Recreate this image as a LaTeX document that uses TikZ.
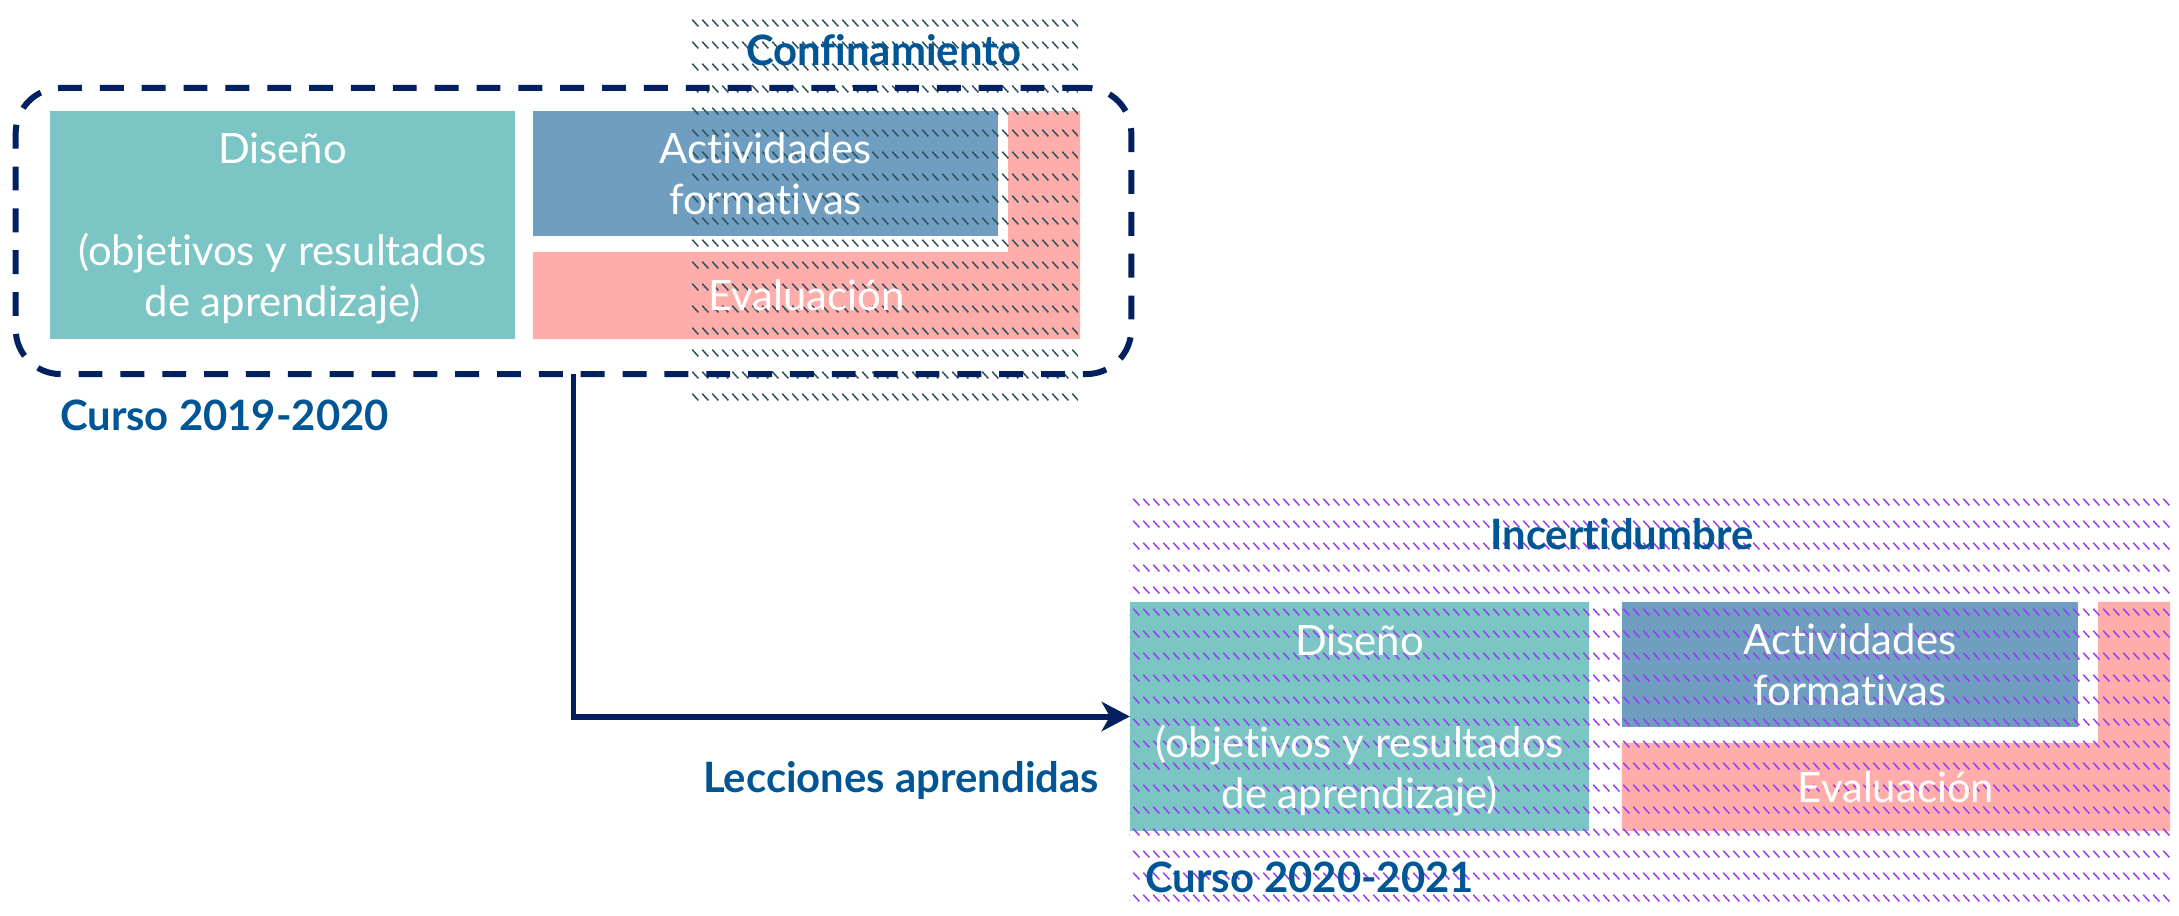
\documentclass[tikz,border=0pt]{standalone}
\usepackage{fontspec}
\setmainfont{Lato}[Ligatures=CommonOff]
\usetikzlibrary{arrows.meta, patterns.meta, backgrounds}

\definecolor{navyline}{RGB}{0,32,96}
\definecolor{titleblue}{RGB}{0,85,148}
\definecolor{disenofill}{RGB}{124,197,197}
\definecolor{actividadfill}{RGB}{111,158,192}
\definecolor{evalfill}{RGB}{255,173,170}
\definecolor{confhatch}{RGB}{45,82,92}
\definecolor{inchatch}{RGB}{150,60,245}

\newcommand{\boxfont}{\fontsize{11.9pt}{14.5pt}\selectfont}
\newcommand{\tagfont}{\fontsize{11.9pt}{14.5pt}\selectfont\bfseries}

% short downward diagonal dashes, in rows
\tikzdeclarepattern{
  name=dashdown,
  type=uncolored,
  bottom left={(0pt,0pt)},
  top right={(2.85pt,6.2pt)},
  tile size={(2.85pt,6.2pt)},
  code={\draw[line width=0.45pt] (0.4pt,5.8pt) -- (2.3pt,3.9pt);}
}

\pgfdeclarelayer{hatch}
\pgfsetlayers{background,hatch,main}

\begin{document}
\begin{tikzpicture}[
  x=0.01cm, y=-0.01cm,
  every node/.style = {inner sep=0pt, outer sep=0pt},
  stagebox/.style = {text=white, align=center, font=\boxfont, text depth=0pt},
  zonetag/.style = {text=titleblue, font=\tagfont},
  hatchzone/.style = {pattern=dashdown},
  cursoframe/.style = {draw=navyline, line width=1.7pt, dash pattern=on 6.8pt off 5.1pt, rounded corners=0.45cm},
  arrow/.style = {-{Stealth[length=8pt, width=8.3pt, inset=2.3pt]}, draw=navyline, line width=1.7pt}
]
\useasboundingbox (0,0) rectangle (2179,915);

% Curso 2019-2020 (top left)
\node[stagebox, minimum width=4.65cm, minimum height=2.28cm] (dis1) at (282.5,225) {Diseño\\[0.51cm](objetivos y resultados\\de aprendizaje)};
\node[stagebox, minimum width=4.65cm, minimum height=1.25cm] (act1) at (765.5,173.5) {Actividades\\formativas};
\node[stagebox, minimum width=5.47cm, minimum height=0.87cm] (eva1) at (806.5,295.5) {Evaluación};
\node[cursoframe, minimum width=11.15cm, minimum height=2.86cm] (frame1) at (573.5,231) {};
\node[zonetag, anchor=base west] (curso1) at (60,430) {Curso 2019-2020};
\node[zonetag, anchor=base] (conf) at (884,65) {Confinamiento};

% Curso 2020-2021 (bottom right)
\node[stagebox, minimum width=4.59cm, minimum height=2.29cm] (dis2) at (1359.5,716.5) {Diseño\\[0.51cm](objetivos y resultados\\de aprendizaje)};
\node[stagebox, minimum width=4.56cm, minimum height=1.25cm] (act2) at (1850,664.5) {Actividades\\formativas};
\node[stagebox, minimum width=5.48cm, minimum height=0.88cm] (eva2) at (1896,787) {Evaluación};
\node[zonetag, anchor=base] (incert) at (1622,549) {Incertidumbre};
\node[zonetag, anchor=base west] (curso2) at (1145,892) {Curso 2020-2021};
\node[zonetag, anchor=base east] (lecc) at (1099,792) {Lecciones aprendidas};

% Lessons learned
\draw[arrow] (frame1.south) |- (dis2.west);

% Box fills (under the hatching)
\begin{pgfonlayer}{background}
  \fill[disenofill] (dis1.north west) rectangle (dis1.south east);
  \fill[actividadfill] (act1.north west) rectangle (act1.south east);
  \fill[evalfill] (eva1.south west) -- (eva1.south east) -- (eva1.east |- act1.north) -- ++(-72,0) |- (eva1.north west) -- cycle;
  \fill[disenofill] (dis2.north west) rectangle (dis2.south east);
  \fill[actividadfill] (act2.north west) rectangle (act2.south east);
  \fill[evalfill] (eva2.south west) -- (eva2.south east) -- (eva2.east |- act2.north) -- ++(-72,0) |- (eva2.north west) -- cycle;
\end{pgfonlayer}

% Hatched zones
\begin{pgfonlayer}{hatch}
  \node[hatchzone, pattern color=confhatch, minimum width=3.88cm, minimum height=4cm] (confzone) at (884,210) {};
  \node[hatchzone, pattern color=inchatch, minimum width=10.41cm, minimum height=4.2cm] (inczone) at (1650.5,705) {};
\end{pgfonlayer}

\end{tikzpicture}
\end{document}
